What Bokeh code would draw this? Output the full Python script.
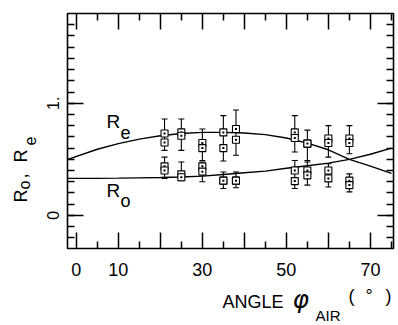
from math import pi
from bokeh.plotting import figure
from bokeh.layouts import row, column
from bokeh.models import (Range1d, FixedTicker, LinearAxis, Label, Whisker,
                          TeeHead, ColumnDataSource)
from bokeh.embed import file_html
from bokeh.resources import INLINE

# ---------------- data ----------------
# theoretical curves
curve_angle = [-2, 5, 10, 15, 20, 25, 30, 35, 40, 45, 50, 55, 60, 65, 70, 75]
re_curve = [0.50, 0.59, 0.64, 0.68, 0.71, 0.73, 0.74, 0.74, 0.735, 0.72, 0.69,
            0.645, 0.585, 0.50, 0.44, 0.375]
ro_curve = [0.33, 0.33, 0.332, 0.335, 0.338, 0.343, 0.35, 0.365, 0.38, 0.395,
            0.42, 0.443, 0.466, 0.50, 0.545, 0.60]

# measured points (two markers per group per angle, one error span)
meas_angle = [21, 25, 30, 35, 38, 52, 55, 60, 65]
re_a = [0.73, 0.74, 0.645, 0.74, 0.77, 0.74, 0.64, 0.685, 0.685]
re_b = [0.65, 0.71, 0.60, 0.60, 0.675, 0.69, 0.64, 0.645, 0.645]
re_hi = [0.86, 0.86, 0.77, 0.89, 0.94, 0.89, 0.76, 0.80, 0.80]
re_lo = [0.58, 0.58, 0.49, 0.485, 0.536, 0.565, 0.476, 0.52, 0.55]

ro_a = [0.4375, 0.366, 0.4375, 0.31, 0.31, 0.40, 0.40, 0.40, 0.31]
ro_b = [0.40, 0.34, 0.39, 0.31, 0.31, 0.306, 0.357, 0.33, 0.27]
ro_hi = [0.52, 0.476, 0.476, 0.387, 0.387, 0.49, 0.49, 0.46, 0.37]
ro_lo = [0.33, 0.31, 0.30, 0.24, 0.247, 0.24, 0.27, 0.253, 0.21]

x_ticks = [0, 10, 20, 30, 40, 50, 60, 70]
x_tick_labels = {0: "0", 10: "10", 20: "", 30: "30", 40: "", 50: "50", 60: "", 70: "70"}
y_ticks = [0, 1]
y_tick_labels = {0: "0", 1: "1."}

# ---------------- layout ----------------
XMIN, XMAX = -2.1, 75.5
YMIN, YMAX = -0.295, 1.80
TOTAL_W, TOTAL_H = 398, 325
YT_W = 40            # width of the y-title strip
MAIN_H = 284         # height of the main plot
XT_H = TOTAL_H - MAIN_H
MAIN_W = TOTAL_W - YT_W
FL, FR, FT, FB = 67, 393, 13, 248     # frame edges on the page
ML, MR, MT, MB = FL - YT_W, TOTAL_W - FR, FT, MAIN_H - FB
BASE = 0.38          # empirical baseline correction (fraction of font size)


def dx(px):
    return XMIN + (px - FL) * (XMAX - XMIN) / (FR - FL)


def dy(py):
    return YMIN + (FB - py) * (YMAX - YMIN) / (FB - FT)


FONT = "Liberation Sans"

p = figure(width=MAIN_W, height=MAIN_H, x_range=Range1d(XMIN, XMAX),
           y_range=Range1d(YMIN, YMAX),
           output_backend="svg", toolbar_location=None,
           x_axis_location=None, y_axis_location=None,
           min_border_left=ML, min_border_right=MR, min_border_top=MT,
           min_border_bottom=MB)
p.xgrid.visible = False
p.ygrid.visible = False
p.outline_line_color = "black"
p.outline_line_width = 1.6
p.background_fill_color = "white"
p.border_fill_color = "white"

x_minor = [t + 5 for t in x_ticks]
y_minor = [round(-0.2 + 0.1 * i, 1) for i in range(20)]


def style_axis(ax, overrides, size, standoff, vertical=False):
    ax.major_tick_in = 16
    ax.major_tick_out = 0
    ax.minor_tick_in = 7
    ax.minor_tick_out = 0
    ax.major_tick_line_width = 1.5
    ax.minor_tick_line_width = 1.5
    ax.major_tick_line_color = "black"
    ax.minor_tick_line_color = "black"
    ax.axis_line_color = None
    ax.major_label_overrides = overrides
    ax.major_label_text_font = FONT
    ax.major_label_text_font_size = size
    ax.major_label_text_color = "black"
    ax.major_label_standoff = standoff
    if vertical:
        ax.major_label_orientation = "vertical"


ax = LinearAxis(ticker=FixedTicker(ticks=x_ticks, minor_ticks=x_minor))
style_axis(ax, x_tick_labels, "18px", 14)
p.add_layout(ax, "below")
ax = LinearAxis(ticker=FixedTicker(ticks=x_ticks, minor_ticks=x_minor))
style_axis(ax, {t: "" for t in x_ticks}, "10px", 0)
p.add_layout(ax, "above")

ax = LinearAxis(ticker=FixedTicker(ticks=y_ticks, minor_ticks=y_minor))
style_axis(ax, y_tick_labels, "16px", 8, vertical=True)
p.add_layout(ax, "left")
ax = LinearAxis(ticker=FixedTicker(ticks=y_ticks, minor_ticks=y_minor))
style_axis(ax, {t: "" for t in y_ticks}, "10px", 0, vertical=True)
p.add_layout(ax, "right")

# curves
p.line(curve_angle, re_curve, line_color="black", line_width=1.4)
p.line(curve_angle, ro_curve, line_color="black", line_width=1.4)

# error bars
for hi, lo in ((re_hi, re_lo), (ro_hi, ro_lo)):
    src = ColumnDataSource(dict(x=meas_angle, hi=hi, lo=lo))
    wk = Whisker(base="x", upper="hi", lower="lo", source=src,
                 line_color="black", line_width=1.1,
                 upper_head=TeeHead(size=6, line_width=1.1, line_color="black"),
                 lower_head=TeeHead(size=6, line_width=1.1, line_color="black"))
    p.add_layout(wk)

# markers
for vals in (re_a, re_b, ro_a, ro_b):
    p.scatter(meas_angle, vals, marker="square", size=7, fill_color="white",
              line_color="black", line_width=1.1)
    p.scatter(meas_angle, vals, marker="square", size=2, fill_color="black",
              line_color=None)


def label(fig, x, y, text, size, font=FONT, style="normal", angle=0.0):
    fig.add_layout(Label(x=x, y=y, text=text, text_font=font,
                         text_font_size=f"{size}px", text_font_style=style,
                         text_color="black", text_align="left",
                         text_baseline="alphabetic", angle=angle))


def hlabel(fig, mapx, mapy, px, py, text, size, **kw):
    # px, py: wanted glyph start and baseline on the page
    label(fig, mapx(px), mapy(py - BASE * size), text, size, **kw)


# curve annotations (inside the frame)
hlabel(p, dx, dy, 106, 128.5, "R", 19)
hlabel(p, dx, dy, 120, 138.5, "e", 18)
hlabel(p, dx, dy, 106, 197, "R", 19)
hlabel(p, dx, dy, 120, 207, "o", 18)


def strip(w, h, **borders):
    f = figure(width=w, height=h, output_backend="svg", toolbar_location=None,
               title=None, x_axis_location=None, y_axis_location=None,
               **borders)
    f.xgrid.visible = False
    f.ygrid.visible = False
    f.outline_line_color = None
    f.background_fill_color = "white"
    f.border_fill_color = "white"
    return f


# y-axis title strip: frame aligned with main frame vertically
yt = strip(YT_W, MAIN_H, min_border_left=0, min_border_right=0,
           min_border_top=MT, min_border_bottom=MB)
yt.x_range = Range1d(0, YT_W)
yt.y_range = Range1d(0, FB - FT)


def vlabel(px, py, text, size):
    # px: wanted baseline x on page, py: wanted text start (bottom) on page
    label(yt, px - BASE * size, FB - py, text, size, angle=pi / 2)


vlabel(27, 202, "R", 18)
vlabel(30, 189, "o", 16)
vlabel(27, 178, ",", 18)
vlabel(27, 162, "R", 18)
vlabel(35.5, 145, "e", 16)

# x-axis title strip: frame aligned with main frame horizontally
xt = strip(TOTAL_W, XT_H, min_border_left=FL, min_border_right=MR,
           min_border_top=0, min_border_bottom=0)
xt.x_range = Range1d(0, FR - FL)
xt.y_range = Range1d(0, XT_H)


def xmap(px):
    return px - FL


def ymap(py):
    return TOTAL_H - py


hlabel(xt, xmap, ymap, 222, 308, "ANGLE", 18)
hlabel(xt, xmap, ymap, 292, 308, "φ", 25, font="DejaVu Sans", style="italic")
hlabel(xt, xmap, ymap, 315, 321, "AIR", 15)
hlabel(xt, xmap, ymap, 348, 302, "(", 18)
hlabel(xt, xmap, ymap, 365, 302, "°", 18)
hlabel(xt, xmap, ymap, 385, 302, ")", 18)

layout = column(row(yt, p, spacing=0), xt, spacing=0)

open("out.html", "w").write(file_html(layout, INLINE))
